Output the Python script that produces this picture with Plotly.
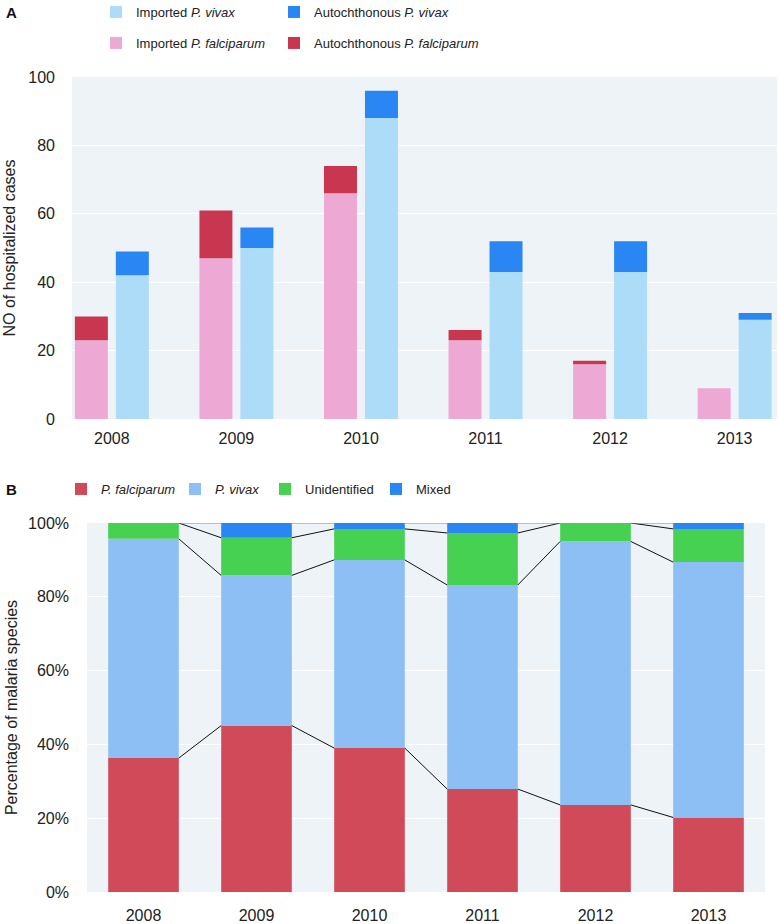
import numpy as np
import plotly.graph_objects as go

# ---------------- data ----------------
years = ["2008", "2009", "2010", "2011", "2012", "2013"]

# Panel A: number of hospitalized cases
imported_falciparum = [23, 47, 66, 23, 16, 9]
autochthonous_falciparum = [7, 14, 8, 3, 1, 0]
imported_vivax = [42, 50, 88, 43, 43, 29]
autochthonous_vivax = [7, 6, 8, 9, 9, 2]

# Panel B: percentage of malaria species
pct_falciparum = [36.3, 45.1, 39.0, 27.9, 23.6, 20.2]
pct_vivax = [59.4, 40.7, 51.0, 55.3, 71.4, 69.2]
pct_unidentified = [4.3, 10.2, 8.4, 14.1, 5.0, 9.0]
pct_mixed = [0.0, 4.0, 1.6, 2.7, 0.0, 1.6]

y_ticks_a = [0, 20, 40, 60, 80, 100]
y_ticks_b = [0, 20, 40, 60, 80, 100]
y_ticktext_b = ["0%", "20%", "40%", "60%", "80%", "100%"]

# ---------------- style ----------------
W, H = 778, 924
FONT = "Liberation Sans, Arial, sans-serif"
BG = "#EEF3F8"
C_IMP_VIV = "#ADDCF9"
C_AUT_VIV = "#2A86F2"
C_IMP_FAL = "#EDA9D4"
C_AUT_FAL = "#C8374F"
C_B_FAL = "#D14A59"
C_B_VIV = "#8DBFF5"
C_B_UNI = "#46D153"
C_B_MIX = "#2A86F2"
BAR_W_B = 0.625

fig = go.Figure()

# ---------- Panel A ----------
fig.add_trace(go.Bar(x=years, y=imported_falciparum, name="Imported <i>P. falciparum</i>",
                     marker=dict(color=C_IMP_FAL, line=dict(width=0)), legendwidth=133,
                     offsetgroup="fal", legend="legend2", xaxis="x", yaxis="y"))
fig.add_trace(go.Bar(x=years, y=autochthonous_falciparum, base=imported_falciparum,
                     name="Autochthonous <i>P. falciparum</i>", legendwidth=180,
                     marker=dict(color=C_AUT_FAL, line=dict(width=0)),
                     offsetgroup="fal", legend="legend2", xaxis="x", yaxis="y"))
fig.add_trace(go.Bar(x=years, y=imported_vivax, name="Imported <i>P. vivax</i>",
                     marker=dict(color=C_IMP_VIV, line=dict(width=0)), legendwidth=133,
                     offsetgroup="viv", legend="legend", xaxis="x", yaxis="y"))
fig.add_trace(go.Bar(x=years, y=autochthonous_vivax, base=imported_vivax,
                     name="Autochthonous <i>P. vivax</i>", legendwidth=180,
                     marker=dict(color=C_AUT_VIV, line=dict(width=0)),
                     offsetgroup="viv", legend="legend", xaxis="x", yaxis="y"))

# ---------- Panel B ----------
idx = np.arange(len(years))
series_b = [
    ("<i>P. falciparum</i>", pct_falciparum, C_B_FAL, 69),
    ("<i>P. vivax</i>", pct_vivax, C_B_VIV, 45),
    ("Unidentified", pct_unidentified, C_B_UNI, 66),
    ("Mixed", pct_mixed, C_B_MIX, 60),
]
stack = np.array([s[1] for s in series_b], dtype=float)
tops = np.cumsum(stack, axis=0)
bases = tops - stack
for (name, vals, col, lw), b in zip(series_b, bases):
    fig.add_trace(go.Bar(x=idx, y=vals, base=b, name=name, legendwidth=lw,
                         width=BAR_W_B, offset=-BAR_W_B / 2,
                         marker=dict(color=col, line=dict(width=0)),
                         offsetgroup="b", legend="legend3", xaxis="x2", yaxis="y2"))

# connector lines between adjacent bars, at each cumulative top
for k in range(tops.shape[0]):
    xs, ys = [], []
    for i in range(len(years) - 1):
        xs += [idx[i] + BAR_W_B / 2, idx[i + 1] - BAR_W_B / 2, None]
        ys += [tops[k][i], tops[k][i + 1], None]
    fig.add_trace(go.Scatter(x=xs, y=ys, mode="lines", showlegend=False,
                             line=dict(color="#111" if k < 3 else "#888", width=1),
                             hoverinfo="skip", xaxis="x2", yaxis="y2"))

leg_common = dict(orientation="h", xanchor="left", yanchor="middle",
                  bgcolor="rgba(0,0,0,0)", font=dict(family=FONT, size=13, color="#222"),
                  itemwidth=30, tracegroupgap=0, borderwidth=0)

fig.update_layout(
    template="none",
    width=W, height=H,
    margin=dict(l=0, r=0, t=0, b=0, autoexpand=False),
    paper_bgcolor="white", plot_bgcolor=BG,
    barmode="group", bargap=0.342, bargroupgap=0.195,
    font=dict(family=FONT, size=16, color="#222"),
    xaxis=dict(domain=[72 / W, 777 / W], anchor="y", type="category",
               range=[-0.32, 5.34], showgrid=False, zeroline=False, ticks="",
               ticklabelstandoff=8, showline=False, automargin=False),
    yaxis=dict(domain=[1 - 419 / H, 1 - 77 / H], anchor="x", range=[0, 100],
               tickvals=y_ticks_a, showgrid=True, gridcolor="white", gridwidth=1,
               zeroline=False, ticks="", ticklabelstandoff=16, showline=False,
               automargin=False,
               title=dict(text="NO of hospitalized cases", standoff=8, font=dict(size=16))),
    xaxis2=dict(domain=[87 / W, 765 / W], anchor="y2", range=[-0.5, 5.5],
                tickvals=list(idx), ticktext=years, showgrid=False, zeroline=False,
                ticks="", ticklabelstandoff=12, showline=False, automargin=False),
    yaxis2=dict(domain=[1 - 892 / H, 1 - 523 / H], anchor="x2", range=[0, 100],
                tickvals=y_ticks_b, ticktext=y_ticktext_b, showgrid=True,
                gridcolor="white", gridwidth=1, showline=False,
                zeroline=False, ticks="", ticklabelstandoff=17, automargin=False,
                title=dict(text="Percentage of malaria species", standoff=6, font=dict(size=16))),
    legend=dict(**leg_common, x=(134 - 38) / W, y=1 - 12 / H),
    legend2=dict(**leg_common, x=(134 - 38) / W, y=1 - 43 / H),
    legend3=dict(**leg_common, x=(99 - 38) / W, y=1 - 489 / H),
    annotations=[
        dict(text="<b>A</b>", x=4 / W, y=1 - 12 / H, xref="paper", yref="paper",
             xanchor="left", yanchor="middle", showarrow=False,
             font=dict(family=FONT, size=15, color="#111")),
        dict(text="<b>B</b>", x=4 / W, y=1 - 489 / H, xref="paper", yref="paper",
             xanchor="left", yanchor="middle", showarrow=False,
             font=dict(family=FONT, size=15, color="#111")),
    ],
)

fig.write_html("out.html",
               config={"displayModeBar": False},
               post_script="document.body.style.margin='0px';document.body.style.overflow='hidden';")
